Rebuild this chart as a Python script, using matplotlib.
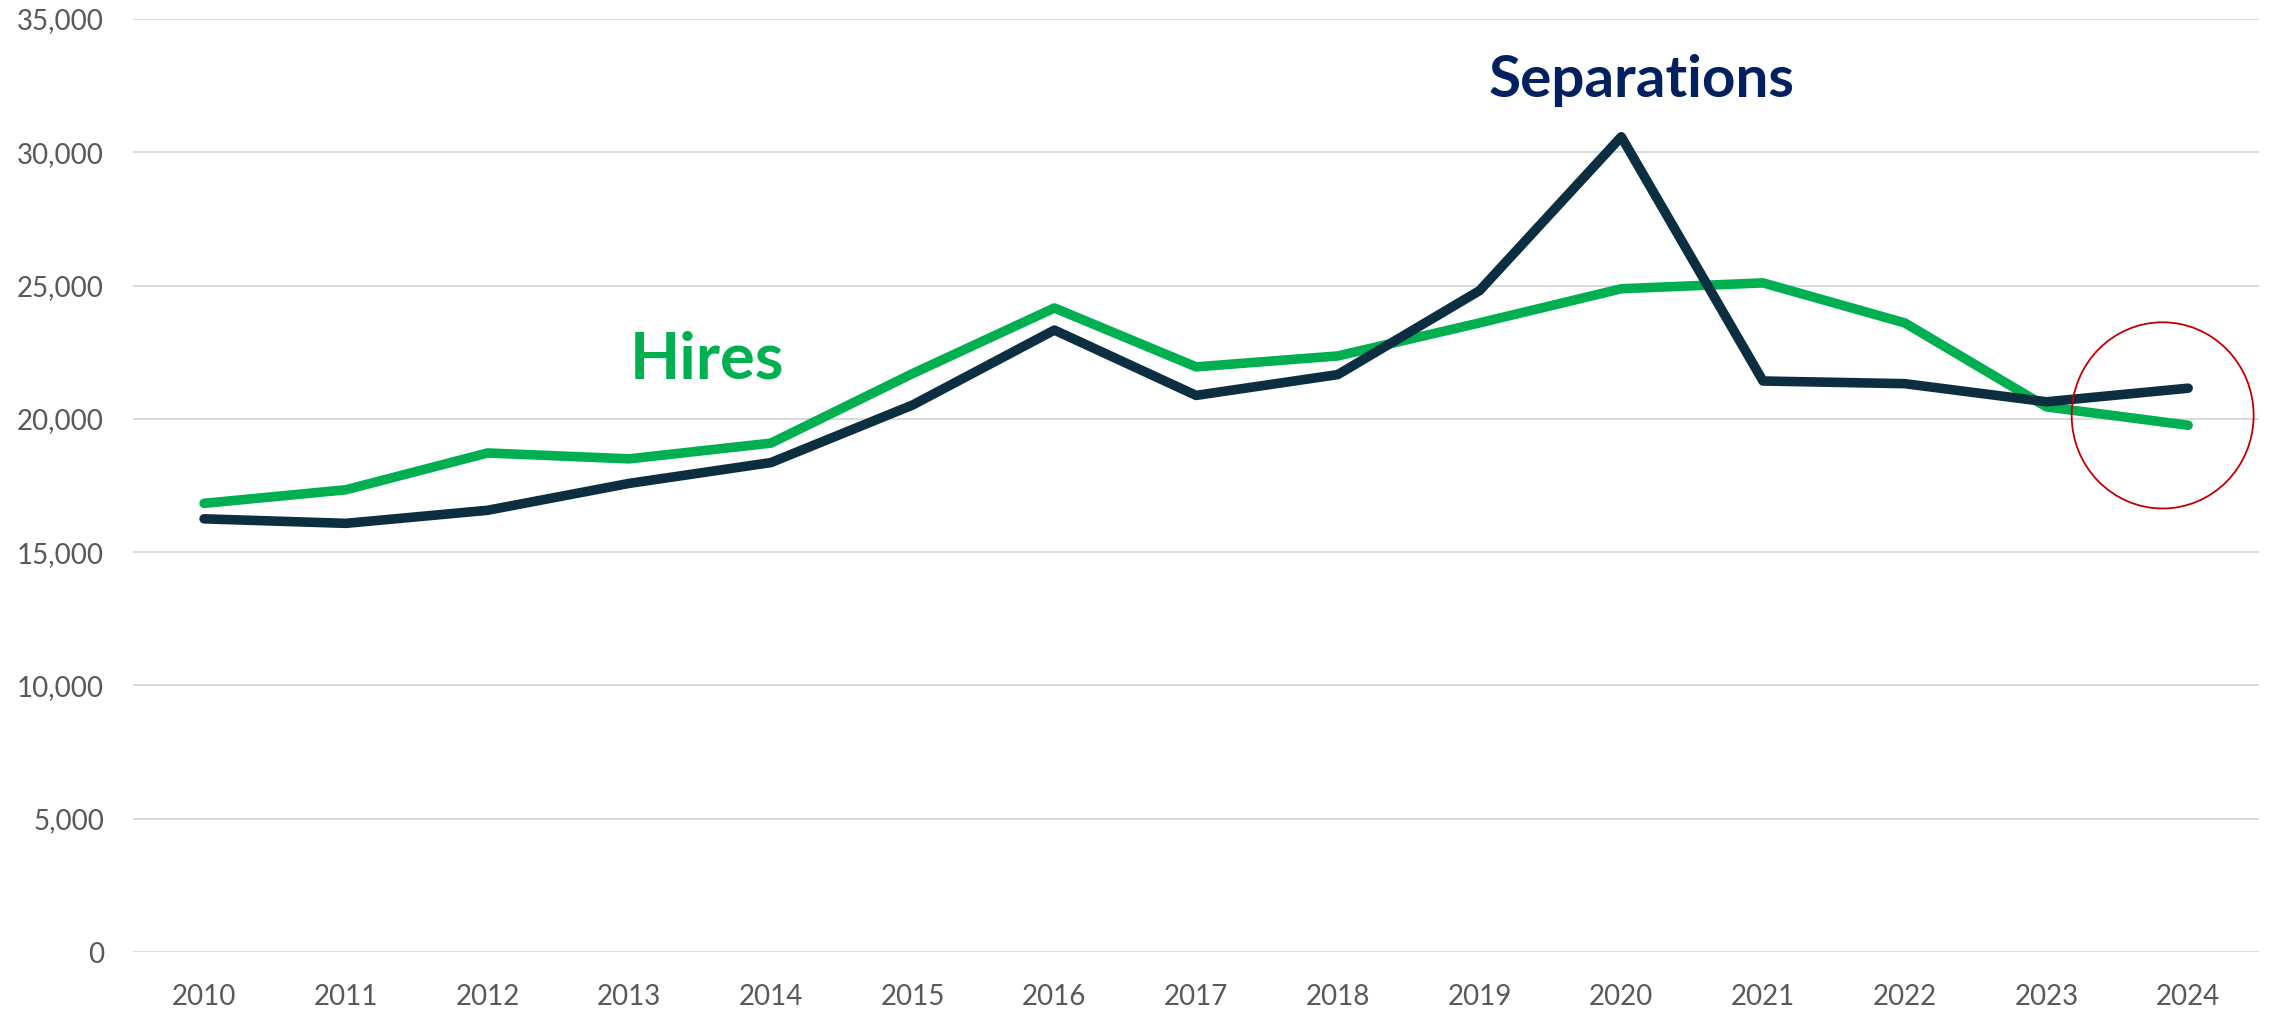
import matplotlib.pyplot as plt
from matplotlib.patches import Ellipse
from matplotlib.ticker import FuncFormatter

# values
years = ['2010', '2011', '2012', '2013', '2014', '2015', '2016', '2017',
         '2018', '2019', '2020', '2021', '2022', '2023', '2024']
hires = [16830, 17340, 18720, 18500, 19090, 21700, 24160, 21950,
         22360, 23600, 24880, 25100, 23600, 20450, 19760]
separations = [16250, 16080, 16570, 17580, 18360, 20520, 23330, 20880,
               21660, 24810, 30580, 21420, 21320, 20640, 21150]

plt.rcParams['font.family'] = ['Lato', 'DejaVu Sans']

fig = plt.figure(figsize=(22.77, 10.14), dpi=100)
ax = fig.add_axes([0.0585, 0.0611, 0.9336, 0.9202])

x = list(range(len(years)))
ax.plot(x, hires, color='#00B050', lw=6.9, solid_capstyle='round',
        solid_joinstyle='round', zorder=3)
ax.plot(x, separations, color='#0B2E40', lw=6.9, solid_capstyle='round',
        solid_joinstyle='round', zorder=4)

# series labels
ax.text(3.55, 22200, 'Hires', color='#00B050', fontsize=47, fontweight='bold',
        ha='center', va='center')
ax.text(10.14, 32700, 'Separations', color='#002060', fontsize=42,
        fontweight='bold', ha='center', va='center')

# red circle around 2024
ax.add_patch(Ellipse((13.82, 20130), 1.284, 6985, fill=False,
                     edgecolor='#C00000', lw=1.3, zorder=5))

ax.set_xlim(-0.5, 14.5)
ax.set_ylim(0, 35000)
ax.set_xticks(x)
ax.set_xticklabels(years)
ax.set_yticks(range(0, 35001, 5000))
ax.yaxis.set_major_formatter(FuncFormatter(lambda v, p: f'{int(v):,}'))

ax.grid(axis='y', color='#D9D9D9', lw=1.4)
ax.set_axisbelow(True)
for s in ax.spines.values():
    s.set_visible(False)
ax.tick_params(axis='both', length=0, labelsize=20, colors='#595959')
ax.tick_params(axis='y', pad=21)
ax.tick_params(axis='x', pad=23)

fig.savefig('out.png', dpi=100)
